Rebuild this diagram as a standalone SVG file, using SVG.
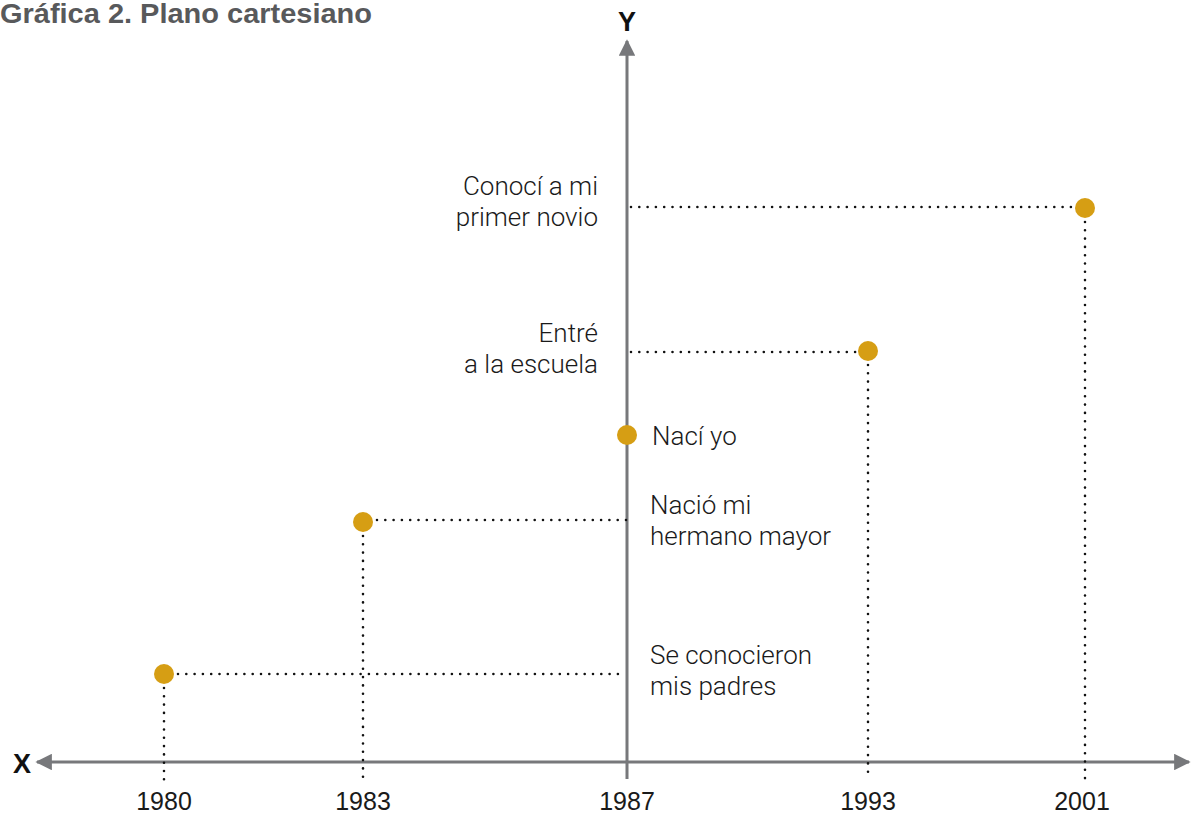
<svg xmlns="http://www.w3.org/2000/svg" width="1201" height="817" viewBox="0 0 1201 817">
<style>
.axis{stroke:#77787b;stroke-width:3;fill:none}
.dot{stroke:#111;stroke-width:2.6;stroke-linecap:round;stroke-dasharray:0 8.3;fill:none}
.pt{fill:#d69e14}
.lbl{font-family:Roboto,"Liberation Sans",sans-serif;font-weight:300;font-size:26px;fill:#1a1a1a}
.yr{font-family:"Liberation Sans",sans-serif;font-size:25px;fill:#1a1a1a;text-anchor:middle}
.ax{font-family:"Liberation Sans",sans-serif;font-weight:bold;font-size:27px;fill:#111}
.title{font-family:"Liberation Sans",sans-serif;font-weight:bold;font-size:28px;fill:#58595b}
</style>
<defs>
<marker id="ah" viewBox="0 0 10 10" refX="9" refY="5" markerWidth="6.5" markerHeight="5.5" orient="auto" markerUnits="strokeWidth">
<path d="M0,0 L10,5 L0,10 z" fill="#77787b"/>
</marker>
</defs>
<rect width="1201" height="817" fill="#fff"/>
<text class="title" x="0" y="23" textLength="372" lengthAdjust="spacingAndGlyphs">Gráfica 2. Plano cartesiano</text>
<g id="connectors">
<line class="axis" x1="627" y1="762" x2="1189" y2="762" marker-end="url(#ah)"/>
<line class="axis" x1="627" y1="762" x2="37" y2="762" marker-end="url(#ah)"/>
<line class="axis" x1="627" y1="779" x2="627" y2="41" marker-end="url(#ah)"/>
<line class="dot" x1="178" y1="674" x2="620" y2="674"/>
<line class="dot" x1="164" y1="688" x2="164" y2="780"/>
<line class="dot" x1="377" y1="520" x2="627" y2="520"/>
<line class="dot" x1="363" y1="536" x2="363" y2="780"/>
<line class="dot" x1="631" y1="352" x2="856" y2="352"/>
<line class="dot" x1="868" y1="365" x2="868" y2="780"/>
<line class="dot" x1="631" y1="207" x2="1073" y2="207"/>
<line class="dot" x1="1085" y1="222" x2="1085" y2="780"/>
</g>
<g id="axis-labels">
<text class="ax" x="13" y="773">X</text>
<text class="ax" x="618" y="31">Y</text>
</g>
<g id="years">
<text class="yr" x="164" y="810">1980</text>
<text class="yr" x="363" y="810">1983</text>
<text class="yr" x="627" y="810">1987</text>
<text class="yr" x="868" y="810">1993</text>
<text class="yr" x="1082" y="810">2001</text>
</g>
<g id="p1980">
<circle class="pt" cx="164" cy="674" r="10"/>
<text class="lbl" x="650" y="664">Se conocieron</text>
<text class="lbl" x="650" y="695">mis padres</text>
</g>
<g id="p1983">
<circle class="pt" cx="363" cy="522" r="10"/>
<text class="lbl" x="650" y="514">Nació mi</text>
<text class="lbl" x="650" y="545">hermano mayor</text>
</g>
<g id="p1987">
<circle class="pt" cx="627" cy="435" r="10"/>
<text class="lbl" x="652" y="445">Nací yo</text>
</g>
<g id="p1993">
<circle class="pt" cx="868" cy="351" r="10"/>
<text class="lbl" x="598" y="342" text-anchor="end">Entré</text>
<text class="lbl" x="598" y="373" text-anchor="end">a la escuela</text>
</g>
<g id="p2001">
<circle class="pt" cx="1085" cy="208" r="10"/>
<text class="lbl" x="598" y="195" text-anchor="end">Conocí a mi</text>
<text class="lbl" x="598" y="226" text-anchor="end">primer novio</text>
</g>
</svg>
